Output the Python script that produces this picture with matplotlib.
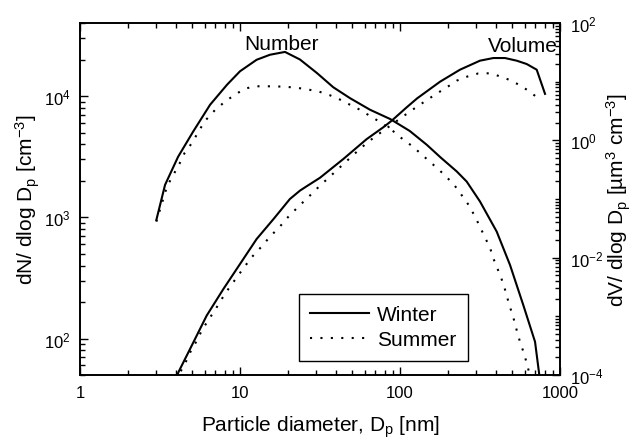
import matplotlib
matplotlib.use('Agg')
import matplotlib.pyplot as plt
from matplotlib.ticker import FixedLocator, LogLocator, LogFormatterMathtext, NullFormatter

plt.rcParams['font.family'] = ['Liberation Sans', 'DejaVu Sans']
plt.rcParams['mathtext.fontset'] = 'custom'
plt.rcParams['mathtext.rm'] = 'Liberation Sans'
plt.rcParams['mathtext.it'] = 'Liberation Sans:italic'
plt.rcParams['mathtext.bf'] = 'Liberation Sans:bold'

# Number size distribution, dN/dlogDp [cm^-3]
dp_num_winter = [3.0, 3.4, 4.1, 5.1, 6.5, 8.3, 10, 12.7, 15.4, 19.1, 23.7, 30.2, 38.3,
                 48.7, 65, 87, 115, 147, 180, 226, 261, 316, 402, 487, 590, 698, 750]
num_winter = [950, 1850, 3150, 5100, 8470, 12400, 16000, 19900, 21900, 23100, 20000,
              15500, 11800, 9600, 7700, 6450, 5150, 3960, 3100, 2390, 1970, 1350, 762, 404,
              188, 94, 45]

dp_num_summer = [3.0, 3.5, 4.2, 4.5, 5.0, 6.0, 7.0, 8.1, 9.3, 10.7, 12.4, 14.7, 17.0, 19.6,
                 23.1, 26.7, 31, 36.5, 42.2, 48.7, 56.2, 65.6, 76.9, 88.7, 102, 121, 140, 162,
                 188, 218, 243, 270, 294, 316, 340, 365, 383, 406, 430, 451, 473, 494, 516,
                 538, 562, 590, 619, 660]
num_summer = [920, 1800, 2790, 3380, 4090, 6170, 7700, 9040, 10260, 11480, 12030, 12030, 12000,
              11900, 11650, 11300, 10900, 10140, 9340, 8470, 7700, 6790, 5980, 5250, 4500, 3800,
              3200, 2700, 2260, 1850, 1520, 1250, 1015, 835, 679, 562, 458, 379, 313, 259, 207,
              171, 142, 115, 94, 78, 63, 45]

# Volume size distribution, dV/dlogDp [um^3 cm^-3]
dp_vol_winter = [4.0, 4.11, 4.87, 6.19, 7.87, 10, 12.7, 16.2, 20.5, 23.7, 26.1, 31.6, 44.2,
                 61.9, 78.6, 88.7, 110, 128, 178, 237, 316, 383, 453, 536, 619, 715, 806]
vol_winter = [9e-5, 1.1e-4, 2.77e-4, 1.03e-3, 2.92e-3, 7.8e-3, 0.0208, 0.0456, 0.1, 0.139,
              0.165, 0.23, 0.48, 1.05, 1.67, 2.16, 3.65, 5.2, 10, 16, 22.8, 25.3, 25.3, 22.8,
              20, 16, 6.2]

dp_vol_summer = [4.0, 4.22, 4.6, 4.92, 5.37, 5.76, 6.34, 6.98, 7.68, 8.45, 9.45, 10.5, 11.8,
                 13.5, 15.4, 17.8, 20.3, 23.5, 27.4, 31.6, 37, 43.2, 49.9, 57.6, 67.5, 78.6,
                 106, 124, 145, 168, 196, 226, 265, 308, 360, 411, 480, 557, 649, 761]
vol_summer = [8e-5, 1.1e-4, 1.71e-4, 2.54e-4, 3.85e-4, 5.69e-4, 8.66e-4, 1.28e-3, 1.97e-3,
              2.92e-3, 4.44e-3, 6.59e-3, 0.0101, 0.015, 0.0228, 0.0342, 0.0519, 0.0769, 0.115,
              0.169, 0.25, 0.37, 0.533, 0.76, 1.08, 1.46, 2.63, 3.55, 4.73, 6.17, 8.0, 10.4,
              12.3, 13.8, 13.9, 12.6, 10.8, 8.8, 6.74, 4.73]

dotted = (0, (1, 4))

fig = plt.figure(figsize=(6.33, 4.39), dpi=100)
ax = fig.add_axes([0.1264, 0.1435, 0.7583, 0.8018])
ax2 = ax.twinx()

ax.plot(dp_num_winter, num_winter, color='black', lw=1.5, label='Winter')
ax.plot(dp_num_summer, num_summer, color='black', lw=1.5, ls=dotted, label='Summer')
ax2.plot(dp_vol_winter, vol_winter, color='black', lw=1.5)
ax2.plot(dp_vol_summer, vol_summer, color='black', lw=1.5, ls=dotted)

ax.set_xscale('log')
ax.set_yscale('log')
ax2.set_yscale('log')
ax.set_xlim(1, 1000)
ax.set_ylim(50, 40000)
ax2.set_ylim(1e-4, 1e2)

ax.xaxis.set_major_locator(FixedLocator([1, 10, 100, 1000]))
ax.xaxis.set_minor_locator(LogLocator(base=10, subs=range(2, 10)))
ax.xaxis.set_major_formatter(plt.FuncFormatter(lambda v, p: '%d' % v))
ax.xaxis.set_minor_formatter(NullFormatter())
ax.yaxis.set_major_locator(FixedLocator([1e2, 1e3, 1e4]))
ax.yaxis.set_minor_locator(LogLocator(base=10, subs=range(2, 10)))
ax.yaxis.set_major_formatter(LogFormatterMathtext())
ax.yaxis.set_minor_formatter(NullFormatter())
ax2.yaxis.set_major_locator(FixedLocator([1e-4, 1e-2, 1, 1e2]))
ax2.yaxis.set_minor_locator(LogLocator(base=10, subs=range(1, 10), numticks=20))
ax2.yaxis.set_major_formatter(LogFormatterMathtext())
ax2.yaxis.set_minor_formatter(NullFormatter())

ax.tick_params(which='both', direction='in', top=True, right=False, labelsize=12, width=1)
ax.tick_params(which='major', length=6, pad=7)
ax.tick_params(which='minor', length=3.5)
ax2.tick_params(which='both', direction='in', labelsize=12, width=1)
ax2.tick_params(which='major', length=6, pad=7)
ax2.tick_params(which='minor', length=3.5)
for a in (ax, ax2):
    for s in a.spines.values():
        s.set_linewidth(1.2)

ax.set_xlabel('Particle diameter, D$_\\mathregular{p}$ [nm]', fontsize=15, labelpad=10)
ax.set_ylabel('dN/ dlog D$_\\mathregular{p}$ [cm$^\\mathregular{-3}$]', fontsize=15, labelpad=1)
ax2.set_ylabel('dV/ dlog D$_\\mathregular{p}$ [\u00b5m$^\\mathregular{3}$ cm$^\\mathregular{-3}$]',
               fontsize=15, labelpad=1)

ax.text(0.419, 0.926, 'Number', fontsize=15, ha='center', va='baseline', transform=ax.transAxes)
ax.text(0.995, 0.921, 'Volume', fontsize=15, ha='right', va='baseline', transform=ax.transAxes)

leg = ax.legend(loc='lower left', bbox_to_anchor=(0.456, 0.04), fontsize=15,
                fancybox=False, edgecolor='black', framealpha=1, borderaxespad=0,
                handlelength=2.8, handletextpad=0.4, borderpad=0.55, labelspacing=0.3)
leg.get_frame().set_linewidth(1)

fig.savefig('out.png', dpi=100)
